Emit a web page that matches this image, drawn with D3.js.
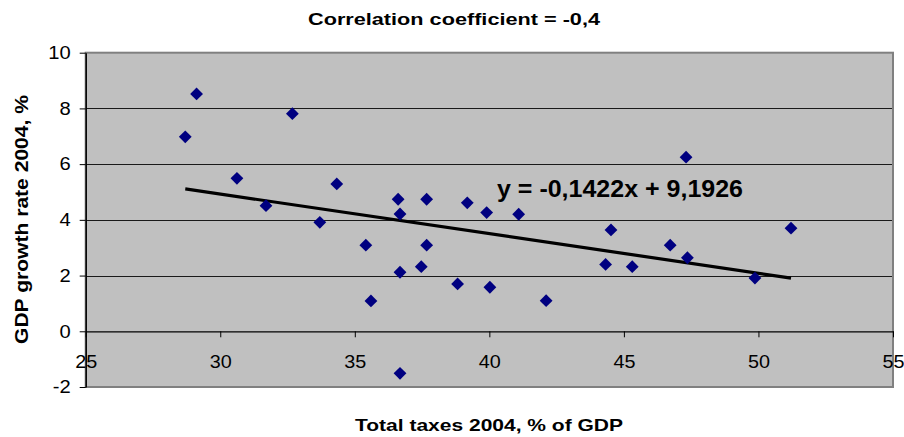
<!DOCTYPE html>
<html>
<head>
<meta charset="utf-8">
<script src="https://cdn.jsdelivr.net/npm/d3@7"></script>
<style>
  html, body { margin: 0; padding: 0; background: #ffffff; }
  svg { display: block; font-family: "Liberation Sans", Arial, sans-serif; }
</style>
</head>
<body>
<svg id="chart" width="904" height="437"></svg>
<script>
// Total taxes 2004 (% of GDP) per country
const taxes = [28.70, 29.12, 30.62, 31.70, 32.68, 33.70, 34.33, 35.41, 35.60, 36.61,
               36.68, 36.68, 36.68, 37.47, 37.67, 37.67, 38.82, 39.18, 39.90, 40.02,
               41.09, 42.11, 44.32, 44.52, 45.31, 46.72, 47.31, 47.36, 49.87, 51.21];
// GDP growth rate 2004 (%) per country
const growth = [6.98, 8.52, 5.49, 4.51, 7.81, 3.91, 5.29, 3.09, 1.09, 4.74,
                4.21, 2.12, -1.51, 2.32, 4.74, 3.09, 1.70, 4.61, 4.26, 1.58,
                4.20, 1.10, 2.40, 3.64, 2.32, 3.09, 6.25, 2.64, 1.91, 3.70];
// Linear trend fitted to the points
const trendSlope = -0.1422;
const trendIntercept = 9.1926;
const trendLabel = "y = -0,1422x + 9,1926";
// Axes
const xTicks = [25, 30, 35, 40, 45, 50, 55];
const yTicks = [-2, 0, 2, 4, 6, 8, 10];
const titleText = "Correlation coefficient = -0,4";
const xTitle = "Total taxes 2004, % of GDP";
const yTitle = "GDP growth rate 2004, %";

const svg = d3.select("#chart");
const plot = { left: 85.7, right: 893, top: 52.7, bottom: 387 };

const x = d3.scaleLinear().domain([25, 55]).range([plot.left, plot.right]);
const y = d3.scaleLinear().domain([-2, 10]).range([plot.bottom, plot.top]);

// widen text slightly, like the original chart's lettering
function widen(sel, factor) {
  sel.each(function () {
    const w = this.getComputedTextLength();
    d3.select(this).attr("textLength", w * factor).attr("lengthAdjust", "spacingAndGlyphs");
  });
}

// plot background
svg.append("rect")
  .attr("x", plot.left).attr("y", plot.top)
  .attr("width", plot.right - plot.left).attr("height", plot.bottom - plot.top)
  .attr("fill", "#c0c0c0");

// horizontal gridlines
svg.append("g")
  .selectAll("line")
  .data(yTicks.filter(v => v !== 0 && v !== -2 && v !== 10))
  .join("line")
  .attr("x1", plot.left).attr("x2", plot.right)
  .attr("y1", d => Math.round(y(d)) + 0.5).attr("y2", d => Math.round(y(d)) + 0.5)
  .attr("stroke", "#1a1a1a").attr("stroke-width", 1);

// plot frame
svg.append("rect")
  .attr("x", plot.left).attr("y", plot.top)
  .attr("width", plot.right - plot.left).attr("height", plot.bottom - plot.top)
  .attr("fill", "none").attr("stroke", "#808080").attr("stroke-width", 2);

// y axis
const yAxis = svg.append("g")
  .attr("transform", `translate(${plot.left},0)`)
  .call(d3.axisLeft(y).tickValues(yTicks).tickFormat(d => String(d))
    .tickSizeInner(6).tickSizeOuter(0).tickPadding(9));
yAxis.select(".domain").attr("stroke", "#000").attr("stroke-width", 1.5);
yAxis.selectAll(".tick line").attr("stroke", "#000");
yAxis.selectAll("text")
  .attr("font-size", 18).attr("fill", "#000")
  .attr("font-family", "Liberation Sans, Arial, sans-serif")
  .call(widen, 1.12);

// x axis along y = 0
const xAxis = svg.append("g")
  .attr("transform", `translate(0,${y(0)})`)
  .call(d3.axisBottom(x).tickValues(xTicks).tickFormat(d => String(d))
    .tickSizeInner(6).tickSizeOuter(0).tickPadding(18));
xAxis.select(".domain").attr("stroke", "#000").attr("stroke-width", 1.2);
xAxis.selectAll(".tick line").attr("stroke", "#000");
xAxis.selectAll("text")
  .attr("font-size", 18).attr("fill", "#000")
  .attr("font-family", "Liberation Sans, Arial, sans-serif")
  .call(widen, 1.1);

// trend line over the range of the data
const [xMin, xMax] = d3.extent(taxes);
svg.append("line")
  .attr("x1", x(xMin)).attr("y1", y(trendSlope * xMin + trendIntercept))
  .attr("x2", x(xMax)).attr("y2", y(trendSlope * xMax + trendIntercept))
  .attr("stroke", "#000").attr("stroke-width", 3.2);

// country points
const diamond = d3.symbol().type(d3.symbolSquare).size(82);
svg.append("g")
  .selectAll("path")
  .data(taxes.map((t, i) => [t, growth[i]]))
  .join("path")
  .attr("d", diamond)
  .attr("transform", d => `translate(${x(d[0])},${y(d[1])}) rotate(45)`)
  .attr("fill", "#000080");

// trend equation
svg.append("text")
  .attr("x", 497).attr("y", 197)
  .attr("font-size", 23).attr("font-weight", "bold").attr("fill", "#000")
  .text(trendLabel)
  .attr("textLength", 246).attr("lengthAdjust", "spacingAndGlyphs");

// chart title
svg.append("text")
  .attr("x", 454).attr("y", 25).attr("text-anchor", "middle")
  .attr("font-size", 17).attr("font-weight", "bold").attr("fill", "#000")
  .text(titleText)
  .attr("textLength", 292).attr("lengthAdjust", "spacingAndGlyphs");

// x axis title
svg.append("text")
  .attr("x", 489).attr("y", 431).attr("text-anchor", "middle")
  .attr("font-size", 17).attr("font-weight", "bold").attr("fill", "#000")
  .text(xTitle)
  .attr("textLength", 268).attr("lengthAdjust", "spacingAndGlyphs");

// y axis title
svg.append("text")
  .attr("transform", "translate(28.3,219.5) rotate(-90)")
  .attr("text-anchor", "middle")
  .attr("font-size", 19).attr("font-weight", "bold").attr("fill", "#000")
  .text(yTitle)
  .attr("textLength", 249).attr("lengthAdjust", "spacingAndGlyphs");
</script>
</body>
</html>
